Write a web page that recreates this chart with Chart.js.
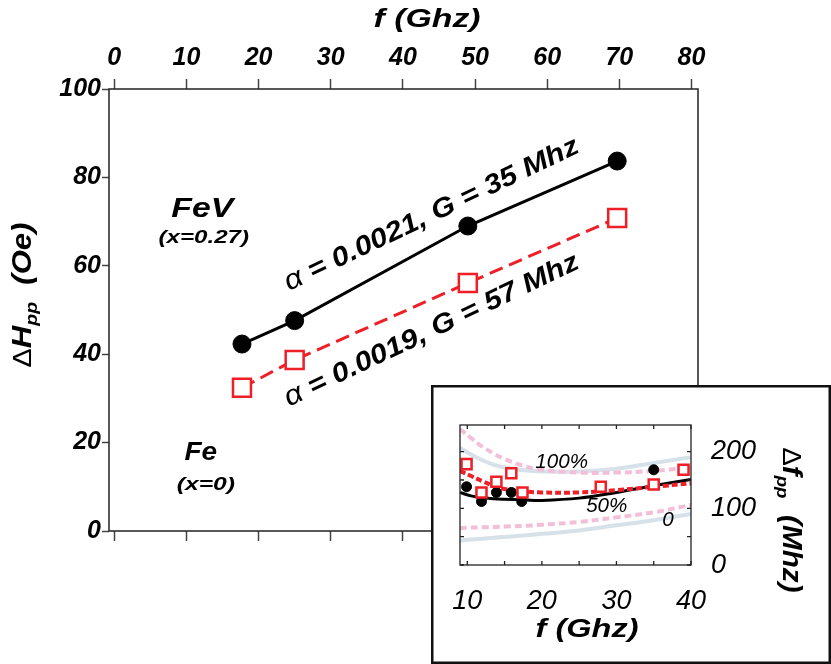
<!DOCTYPE html>
<html>
<head>
<meta charset="utf-8">
<title>Linewidth vs frequency</title>
<script src="https://cdn.jsdelivr.net/npm/chart.js@4.4.1/dist/chart.umd.min.js"></script>
<style>
  body { margin: 0; background: #fff; }
  #page { position: relative; width: 831px; height: 664px; overflow: hidden; }
  #mainChart { position: absolute; left: 0; top: 0; }
  #insetChart { position: absolute; left: 431px; top: 385px; }
</style>
</head>
<body>
<div id="page">
  <canvas id="mainChart" width="831" height="664"></canvas>
  <canvas id="insetChart" width="400" height="279"></canvas>
</div>
<script>
// main panel: peak-to-peak linewidth vs frequency
const freqTicks = [0, 10, 20, 30, 40, 50, 60, 70, 80];
const widthTicks = [0, 20, 40, 60, 80, 100];
const feVFreq = [17.7, 25.0, 49.0, 69.7];
const feVWidth = [42.3, 47.6, 69.0, 83.7];
const feFreq = [17.7, 25.0, 49.0, 69.7];
const feWidth = [32.4, 38.7, 56.1, 70.8];
const alloyNames = ['FeV', 'Fe'];
const alloyComp = ['(x=0.27)', '(x=0)'];
const fitText = [' = 0.0021, G = 35 Mhz', ' = 0.0019, G = 57 Mhz'];

// inset: Δf_pp vs frequency
const insetFreqTicks = [10, 15, 20, 25, 30, 35, 40];
const insetFreqLabels = [10, 20, 30, 40];
const insetDfTicks = [0, 50, 100, 150, 200];
const insetDfLabels = [0, 100, 200];
const insetFreqV = [9.9, 11.9, 13.9, 15.9, 17.3, 27.9, 35.0];
const insetDfV = [138, 112, 128, 128, 112, 138, 168];
const insetFreqFe = [9.9, 11.9, 13.9, 15.9, 17.4, 27.9, 35.0, 39.0];
const insetDfFe = [178, 128, 147, 162, 128, 138, 142, 168];
const curveFreq = [9, 10.5, 12, 13.5, 15, 17.5, 20, 25, 30, 35, 40];
const fitDfV = [128, 122, 119, 117, 116, 115, 114, 118, 128, 140, 151];
const fitDfFe = [166, 157, 148, 140, 134, 130, 128, 128, 132, 138, 144];
const upperPink = [240, 224, 209, 197, 187, 175, 168, 163, 163, 166, 172];
const upperBlue = [207, 195, 185, 177, 172, 167, 165, 165, 170, 180, 190];
const lowerPink = [65, 66, 66.5, 67, 68, 69, 71, 76, 84, 93, 106];
const lowerBlue = [43, 45, 46.5, 48, 49.5, 52, 55, 61, 70, 79, 90];
const bandLabels = ['100%', '50%', '0'];

const FAMILY = '"Liberation Sans", Arial, sans-serif';
const RED = '#ee1f26';
Chart.defaults.font.family = FAMILY;
Chart.defaults.color = '#000';

function font(size, bold, italic) {
    return (italic === false ? '' : 'italic ') + (bold ? 'bold ' : '') + size + 'px ' + FAMILY;
}
function pts(xs, ys) {
    return xs.map((x, i) => ({ x: x, y: ys[i] }));
}
function setTicks(values) {
    return function(scale) { scale.ticks = values.map(v => ({ value: v })); };
}

// draw a row of text pieces (for subscripts / mixed fonts), optionally rotated and stretched
function drawParts(ctx, parts, x, y, angle, sx, align) {
    ctx.save();
    ctx.translate(x, y);
    ctx.rotate(angle || 0);
    ctx.scale(sx || 1, 1);
    let total = 0;
    parts.forEach(p => { ctx.font = p.font; p.w = ctx.measureText(p.text).width; total += p.w; });
    let cx = align === 'left' ? 0 : -total / 2;
    ctx.textAlign = 'left';
    ctx.textBaseline = 'alphabetic';
    ctx.fillStyle = '#000';
    parts.forEach(p => {
        ctx.font = p.font;
        ctx.fillText(p.text, cx, p.dy || 0);
        cx += p.w;
    });
    ctx.restore();
}

// ---- main chart ----
const mainDecor = {
    id: 'mainDecor',
    beforeDatasetsDraw(chart) {
        const ctx = chart.ctx, a = chart.chartArea;
        ctx.save();
        ctx.strokeStyle = '#222';
        ctx.lineWidth = 1.5;
        ctx.strokeRect(a.left, a.top, a.width, a.height);
        ctx.restore();
    },
    afterDraw(chart) {
        const ctx = chart.ctx, a = chart.chartArea;
        const sx = chart.scales.x, sy = chart.scales.y;
        // axis titles
        drawParts(ctx, [{ text: 'f (Ghz)', font: font(26, true) }], a.left + 0.54 * a.width, 27, 0, 1.3);
        drawParts(ctx, [
            { text: '\u0394', font: font(25, false, false) },
            { text: 'H', font: font(27, true) },
            { text: 'pp', font: font(17, true), dy: 6 },
            { text: '  (Oe)', font: font(27, true) }
        ], 31, 295, -Math.PI / 2, 1.15);
        // alloy labels
        drawParts(ctx, [{ text: alloyNames[0], font: font(27, true) }], sx.getPixelForValue(12.2), sy.getPixelForValue(73.3) + 10, 0, 1.25);
        drawParts(ctx, [{ text: alloyComp[0], font: font(19, true) }], sx.getPixelForValue(12.4), sy.getPixelForValue(66.7) + 7, 0, 1.27);
        drawParts(ctx, [{ text: alloyNames[1], font: font(25, true) }], sx.getPixelForValue(12.0), sy.getPixelForValue(18.1) + 9, 0, 1.12);
        drawParts(ctx, [{ text: alloyComp[1], font: font(19, true) }], sx.getPixelForValue(12.7), sy.getPixelForValue(10.9) + 7, 0, 1.3);
        // damping fits along the lines
        const ang = -25.5 * Math.PI / 180;
        drawParts(ctx, [
            { text: '\u03b1', font: font(28, false) },
            { text: fitText[0], font: font(27, true) }
        ], sx.getPixelForValue(24.2), sy.getPixelForValue(54.3), ang, 1.13, 'left');
        drawParts(ctx, [
            { text: '\u03b1', font: font(28, false) },
            { text: fitText[1], font: font(27, true) }
        ], sx.getPixelForValue(24.2), sy.getPixelForValue(28.1), ang, 1.13, 'left');
    }
};

const tickGrid = { drawOnChartArea: false, drawTicks: true, tickLength: 10, tickColor: '#444', tickWidth: 1.5 };

new Chart(document.getElementById('mainChart'), {
    type: 'scatter',
    data: {
        datasets: [
            {
                label: alloyNames[0],
                data: pts(feVFreq, feVWidth),
                showLine: true,
                borderColor: '#000',
                borderWidth: 3,
                pointStyle: 'circle',
                pointRadius: 9,
                pointBackgroundColor: '#000',
                pointBorderColor: '#000',
                pointBorderWidth: 1
            },
            {
                label: alloyNames[1],
                data: pts(feFreq, feWidth),
                showLine: true,
                borderColor: RED,
                borderWidth: 3,
                borderDash: [14, 7],
                pointStyle: 'rect',
                pointRadius: 12.7,
                pointBackgroundColor: '#fff',
                pointBorderColor: RED,
                pointBorderWidth: 2.5
            }
        ]
    },
    options: {
        responsive: false,
        animation: false,
        layout: { padding: { left: 0, right: 133, top: 0, bottom: 0 } },
        plugins: { legend: { display: false }, tooltip: { enabled: false } },
        scales: {
            x: {
                type: 'linear', position: 'bottom', min: -0.73, max: 80.9,
                afterBuildTicks: setTicks(freqTicks),
                ticks: { display: false },
                grid: tickGrid,
                border: { display: false },
                afterFit: s => { s.height = 133; }
            },
            x2: {
                type: 'linear', position: 'top', min: -0.73, max: 80.9,
                afterBuildTicks: setTicks(freqTicks),
                ticks: { font: { size: 25, style: 'italic', weight: 'bold' }, padding: 6, maxRotation: 0 },
                grid: tickGrid,
                border: { display: false },
                afterFit: s => { s.height = 89; }
            },
            y: {
                type: 'linear', min: 0, max: 100,
                afterBuildTicks: setTicks(widthTicks),
                ticks: { font: { size: 25, style: 'italic', weight: 'bold' }, padding: 1 },
                grid: Object.assign({}, tickGrid, { tickLength: 7 }),
                border: { display: false },
                afterFit: s => { s.width = 109; }
            }
        }
    },
    plugins: [mainDecor]
});

// ---- inset chart ----
const insetDecor = {
    id: 'insetDecor',
    beforeDraw(chart) {
        const ctx = chart.ctx;
        ctx.save();
        ctx.fillStyle = '#fff';
        ctx.fillRect(0, 0, chart.width, chart.height);
        ctx.strokeStyle = '#111';
        ctx.lineWidth = 2.5;
        ctx.strokeRect(1.25, 1.25, chart.width - 2.5, chart.height - 2.5);
        ctx.restore();
    },
    afterDatasetsDraw(chart) {
        const ctx = chart.ctx, a = chart.chartArea;
        const sx = chart.scales.x, sy = chart.scales.y;
        ctx.save();
        ctx.strokeStyle = '#222';
        ctx.lineWidth = 1.3;
        ctx.strokeRect(a.left, a.top, a.width, a.height);
        const len = 4;
        ctx.beginPath();
        sx.ticks.forEach(t => {
            const p = sx.getPixelForValue(t.value);
            ctx.moveTo(p, a.bottom); ctx.lineTo(p, a.bottom - len);
            ctx.moveTo(p, a.top); ctx.lineTo(p, a.top + len);
        });
        sy.ticks.forEach(t => {
            const p = sy.getPixelForValue(t.value);
            ctx.moveTo(a.left, p); ctx.lineTo(a.left + len, p);
            ctx.moveTo(a.right, p); ctx.lineTo(a.right - len, p);
        });
        ctx.stroke();
        ctx.restore();
        // band labels
        drawParts(ctx, [{ text: bandLabels[0], font: font(20) }], sx.getPixelForValue(22.65), sy.getPixelForValue(183.8) + 7, 0, 1.03);
        drawParts(ctx, [{ text: bandLabels[1], font: font(20) }], sx.getPixelForValue(28.7), sy.getPixelForValue(106) + 7, 0, 1.03);
        drawParts(ctx, [{ text: bandLabels[2], font: font(20) }], sx.getPixelForValue(36.9), sy.getPixelForValue(80.8) + 7, 0, 1.03);
    },
    afterDraw(chart) {
        const ctx = chart.ctx, a = chart.chartArea;
        drawParts(ctx, [{ text: 'f (Ghz)', font: font(26, true) }], a.left + 0.55 * a.width, 252, 0, 1.25);
        drawParts(ctx, [
            { text: '\u0394', font: font(25, false, false) },
            { text: 'f', font: font(27, true) },
            { text: 'pp', font: font(17, true), dy: 6 },
            { text: '  (Mhz)', font: font(27, true) }
        ], 352, 135, Math.PI / 2, 1.1);
    }
};

const curve = (data, color, width, dash, order) => ({
    data: data, showLine: true, pointRadius: 0, borderColor: color, borderWidth: width,
    borderDash: dash, tension: 0.4, order: order
});

new Chart(document.getElementById('insetChart'), {
    type: 'scatter',
    data: {
        datasets: [
            {
                data: pts(insetFreqFe, insetDfFe), showLine: false, pointStyle: 'rect', pointRadius: 7.1,
                pointBackgroundColor: '#fff', pointBorderColor: RED, pointBorderWidth: 2.5, order: 0
            },
            {
                data: pts(insetFreqV, insetDfV), showLine: false, pointStyle: 'circle', pointRadius: 5,
                pointBackgroundColor: '#000', pointBorderColor: '#000', order: 1
            },
            curve(pts(curveFreq, fitDfFe), RED, 4, [6, 3], 2),
            curve(pts(curveFreq, fitDfV), '#000', 3, [], 3),
            curve(pts(curveFreq, upperPink), '#f3bfd8', 4, [7, 4], 4),
            curve(pts(curveFreq, lowerPink), '#f3bfd8', 4, [7, 4], 5),
            curve(pts(curveFreq, upperBlue), '#d6e1ea', 4, [], 6),
            curve(pts(curveFreq, lowerBlue), '#d6e1ea', 4, [], 7)
        ]
    },
    options: {
        responsive: false,
        animation: false,
        layout: { padding: { left: 29, right: 0, top: 40, bottom: 0 } },
        plugins: { legend: { display: false }, tooltip: { enabled: false } },
        scales: {
            x: {
                type: 'linear', min: 9.02, max: 40,
                afterBuildTicks: setTicks(insetFreqTicks),
                ticks: {
                    font: { size: 27, style: 'italic' }, padding: 12, maxRotation: 0, autoSkip: false,
                    callback: v => insetFreqLabels.includes(v) ? String(v) : ''
                },
                grid: { display: false },
                border: { display: false },
                afterFit: s => { s.height = 99; }
            },
            y: {
                type: 'linear', position: 'right', min: 0, max: 247,
                afterBuildTicks: setTicks(insetDfTicks),
                ticks: {
                    font: { size: 27, style: 'italic' }, padding: 12, autoSkip: false,
                    callback: v => insetDfLabels.includes(v) ? String(v) : ''
                },
                grid: { display: false },
                border: { display: false },
                afterFit: s => { s.width = 140; }
            }
        }
    },
    plugins: [insetDecor]
});
</script>
</body>
</html>
